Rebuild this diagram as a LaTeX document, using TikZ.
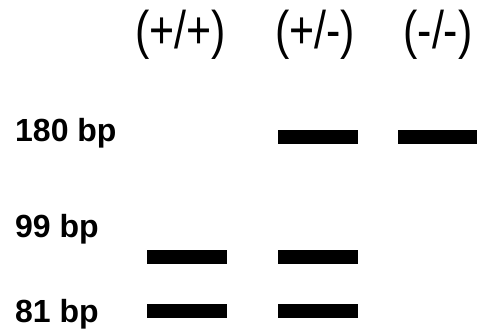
\documentclass[tikz,border=0pt]{standalone}
\usepackage{fontspec}
\setmainfont{Liberation Sans}
\begin{document}
\begin{tikzpicture}[x=1bp,y=-1bp,
  hdr/.style={inner sep=0pt, font=\fontsize{53bp}{60bp}\selectfont, xscale=0.81, transform shape},
  lbl/.style={inner sep=0pt, anchor=base west, font=\bfseries\fontsize{32bp}{36bp}\selectfont},
  band/.style={fill=black, draw=none}]
\useasboundingbox (0,0) rectangle (477,331);
% headers
\node[hdr] (h1) at (180.5,35) {(+/+)};
\node[hdr] (h2) at (315,35) {(+/-)};
\node[hdr] (h3) at (438,35) {(-/-)};
% row labels
\node[lbl] (l180) at (15,141) {180 bp};
\node[lbl] (l99) at (15,237) {99 bp};
\node[lbl] (l81) at (15,322) {81 bp};
% bands
\fill[band] (278,130) rectangle (358,144);
\fill[band] (398,130) rectangle (477,144);
\fill[band] (147,250) rectangle (227,264);
\fill[band] (278,250) rectangle (358,264);
\fill[band] (147,304) rectangle (227,318);
\fill[band] (278,304) rectangle (358,318);
\end{tikzpicture}
\end{document}
